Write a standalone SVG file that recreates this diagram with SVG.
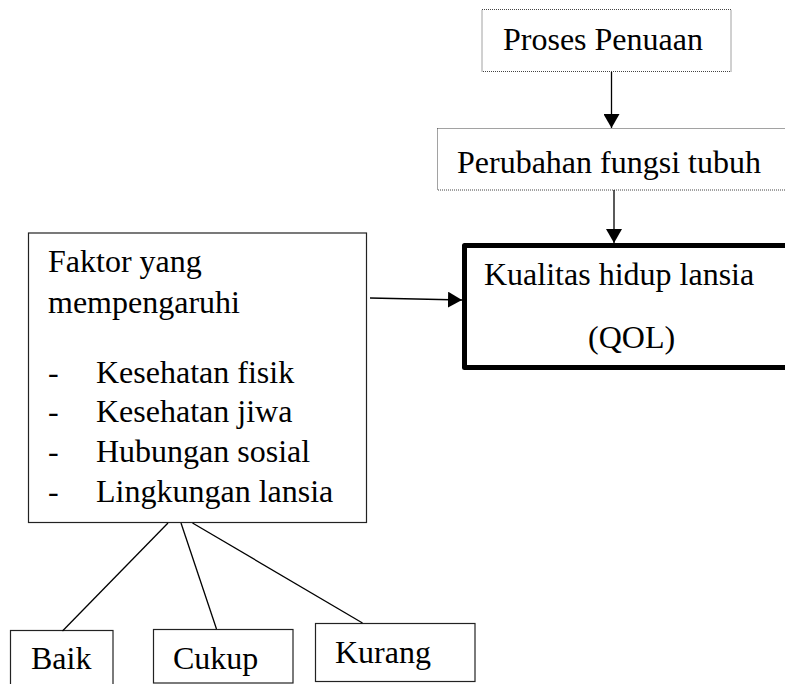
<svg xmlns="http://www.w3.org/2000/svg" width="785" height="684" viewBox="0 0 785 684">
<style>
text{font-family:'Liberation Serif',serif;font-size:32px;fill:#000}
.dot{fill:#fff;stroke:#444;stroke-width:1;stroke-dasharray:1 1}
.thin{fill:#fff;stroke:#222;stroke-width:1.2}
.thick{fill:#fff;stroke:#000;stroke-width:5;stroke-linejoin:round}
.ln{stroke:#000;stroke-width:1.3;fill:none}
</style>
<defs>
<marker id="ah" markerWidth="14" markerHeight="16" refX="14" refY="8" orient="auto" markerUnits="userSpaceOnUse">
<path d="M0,0 L14,8 L0,16 Z" fill="#000"/>
</marker>
</defs>
<g id="node-proses">
<rect class="dot" x="482" y="9.5" width="249" height="62"/>
<text x="503" y="50">Proses Penuaan</text>
</g>
<g id="node-perubahan">
<rect class="dot" x="437.5" y="128.5" width="360" height="61.5"/>
<text x="457" y="173">Perubahan fungsi tubuh</text>
</g>
<g id="node-kualitas">
<rect class="thick" x="464.5" y="245.5" width="330" height="122"/>
<text x="484" y="285">Kualitas hidup lansia</text>
<text x="588" y="348">(QOL)</text>
</g>
<g id="node-faktor">
<rect class="thin" x="28.5" y="233" width="338" height="289.5"/>
<text x="48" y="272">Faktor yang</text>
<text x="48" y="313">mempengaruhi</text>
<text x="48" y="383">-</text><text x="96" y="383">Kesehatan fisik</text>
<text x="48" y="422">-</text><text x="96" y="422">Kesehatan jiwa</text>
<text x="48" y="462">-</text><text x="96" y="462">Hubungan sosial</text>
<text x="48" y="502">-</text><text x="96" y="502">Lingkungan lansia</text>
</g>
<g id="node-baik">
<rect class="thin" x="10.5" y="630.5" width="102.5" height="60"/>
<text x="31" y="669">Baik</text>
</g>
<g id="node-cukup">
<rect class="thin" x="153.5" y="629.5" width="139.5" height="53.5"/>
<text x="173" y="669">Cukup</text>
</g>
<g id="node-kurang">
<rect class="thin" x="315.5" y="623.5" width="159.5" height="58"/>
<text x="335" y="663">Kurang</text>
</g>
<g id="connectors">
<line class="ln" x1="611.5" y1="72" x2="611.5" y2="128" marker-end="url(#ah)"/>
<line class="ln" x1="614" y1="190" x2="614" y2="243" marker-end="url(#ah)"/>
<line class="ln" x1="370" y1="298" x2="462" y2="300" marker-end="url(#ah)"/>
<line class="ln" x1="168" y1="523" x2="62.5" y2="631"/>
<line class="ln" x1="181" y1="523" x2="216.5" y2="629"/>
<line class="ln" x1="192.5" y1="523" x2="362.5" y2="623"/>
</g>
</svg>
